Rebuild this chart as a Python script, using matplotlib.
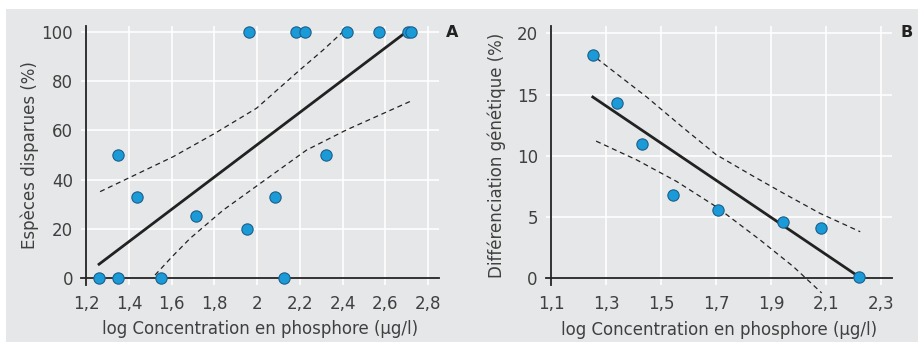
import matplotlib
matplotlib.use("Agg")
import matplotlib.pyplot as plt
from matplotlib.patches import Rectangle

plt.rcParams['font.family'] = ['DejaVu Sans']

# ---------------- Panel A data ----------------
a_x = [1.258, 1.347, 1.347, 1.436, 1.55, 1.714, 1.95, 1.963, 2.082, 2.127,
       2.18, 2.223, 2.324, 2.421, 2.568, 2.705, 2.72]
a_y = [0, 0, 50, 33, 0, 25, 20, 100, 33, 0, 100, 100, 50, 100, 100, 100, 100]
a_fit_x = [1.26, 2.69]
a_fit_y = [5.6, 99.5]
a_up_x = [1.265, 1.405, 1.607, 1.802, 1.997, 2.2, 2.309, 2.4]
a_up_y = [35.1, 40.9, 49.3, 58.8, 69.0, 84.6, 92.7, 100.0]
a_lo_x = [1.522, 1.6, 1.686, 1.841, 2.036, 2.231, 2.418, 2.714]
a_lo_y = [1.2, 8.5, 16.1, 27.6, 39.8, 52.0, 60.2, 71.7]
a_xticks = [1.2, 1.4, 1.6, 1.8, 2.0, 2.2, 2.4, 2.6, 2.8]
a_xlabels = ["1,2", "1,4", "1,6", "1,8", "2", "2,2", "2,4", "2,6", "2,8"]
a_yticks = [0, 20, 40, 60, 80, 100]

# ---------------- Panel B data ----------------
b_x = [1.254, 1.341, 1.43, 1.543, 1.706, 1.945, 2.08, 2.221]
b_y = [18.2, 14.3, 10.96, 6.78, 5.58, 4.57, 4.08, 0.1]
b_fit_x = [1.252, 2.215]
b_fit_y = [14.8, 0.19]
b_up_x = [1.266, 1.448, 1.58, 1.7, 1.83, 1.945, 2.078, 2.224]
b_up_y = [17.96, 14.8, 12.3, 10.1, 8.4, 6.94, 5.3, 3.8]
b_lo_x = [1.264, 1.412, 1.557, 1.7, 1.86, 1.981, 2.084]
b_lo_y = [11.2, 9.66, 7.9, 5.85, 3.13, 0.95, -1.2]
b_xticks = [1.1, 1.3, 1.5, 1.7, 1.9, 2.1, 2.3]
b_xlabels = ["1,1", "1,3", "1,5", "1,7", "1,9", "2,1", "2,3"]
b_yticks = [0, 5, 10, 15, 20]

BG = "#e6e7e8"
PT = "#1a9ad6"
PT_EDGE = "#1d5f8c"
TXT = "#404040"
FS = 12

fig = plt.figure(figsize=(9.18, 3.42), dpi=100)
fig.patch.set_facecolor("white")
fig.patches.append(Rectangle((6 / 918, 0), 1 - 6 / 918, 1 - 9 / 342,
                             transform=fig.transFigure, facecolor=BG,
                             edgecolor="none", zorder=-10))


def style_axes(ax, x0, y0, xticks, xlabels, yticks, ylabel, ylpad,
               letter, letter_x):
    ax.set_facecolor("none")
    for s in ["top", "right"]:
        ax.spines[s].set_visible(False)
    ax.spines["left"].set_position(("data", x0))
    ax.spines["bottom"].set_position(("data", y0))
    for s in ["left", "bottom"]:
        ax.spines[s].set_color("#222222")
        ax.spines[s].set_linewidth(1.3)
        ax.spines[s].set_zorder(3)
    ax.set_xticks(xticks)
    ax.set_xticklabels(xlabels)
    ax.set_yticks(yticks)
    ax.tick_params(length=0, labelsize=FS, labelcolor=TXT)
    ax.tick_params(axis="x", pad=12)
    ax.tick_params(axis="y", pad=9.5)
    ax.grid(True, color="white", linewidth=1.2, zorder=1)
    ax.set_axisbelow(True)
    ax.set_xlabel("log Concentration en phosphore (µg/l)", fontsize=FS,
                  color=TXT, labelpad=5.5)
    ax.set_ylabel(ylabel, fontsize=FS, color=TXT, labelpad=ylpad)
    ax.text(letter_x, 0.974, letter, transform=ax.transAxes, fontsize=11.5,
            fontweight="bold", color="#222222", ha="left", va="center")


axA = fig.add_axes([0.0881, 0.167, 0.390, 0.7576])
axA.set_xlim(1.175, 2.85)
axA.set_ylim(-2.8, 102.5)
style_axes(axA, 1.2, 0, a_xticks, a_xlabels, a_yticks,
           "Espèces disparues (%)", 2, "A", 1.02)
axA.plot(a_fit_x, a_fit_y, color="#222222", lw=2.0, zorder=4)
axA.plot(a_up_x, a_up_y, color="#222222", lw=0.9, ls=(0, (4, 3)), zorder=4)
axA.plot(a_lo_x, a_lo_y, color="#222222", lw=0.9, ls=(0, (4, 3)), zorder=4)
axA.scatter(a_x, a_y, s=66, color=PT, edgecolor=PT_EDGE, linewidth=0.8,
            zorder=5, clip_on=False)

axB = fig.add_axes([0.5948, 0.1667, 0.377, 0.7573])
axB.set_xlim(1.082, 2.34)
axB.set_ylim(-0.55, 20.6)
style_axes(axB, 1.1, 0, b_xticks, b_xlabels, b_yticks,
           "Différenciation génétique (%)", 8, "B", 1.025)
axB.plot(b_fit_x, b_fit_y, color="#222222", lw=2.0, zorder=4)
axB.plot(b_up_x, b_up_y, color="#222222", lw=0.9, ls=(0, (4, 3)), zorder=4)
axB.plot(b_lo_x, b_lo_y, color="#222222", lw=0.9, ls=(0, (4, 3)), zorder=4,
         clip_on=False)
axB.scatter(b_x, b_y, s=66, color=PT, edgecolor=PT_EDGE, linewidth=0.8,
            zorder=5, clip_on=False)

fig.savefig("out.png", dpi=100)
